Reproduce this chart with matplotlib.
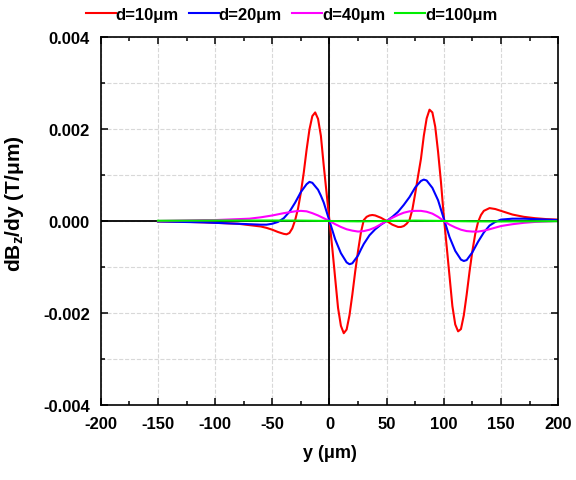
import matplotlib
matplotlib.use('Agg')
import matplotlib.pyplot as plt
from matplotlib.ticker import MultipleLocator, FormatStrFormatter

plt.rcParams['font.family'] = ['Liberation Sans', 'DejaVu Sans']
plt.rcParams['font.weight'] = 'bold'
plt.rcParams['axes.unicode_minus'] = False
plt.rcParams['mathtext.fontset'] = 'custom'
plt.rcParams['mathtext.bf'] = 'Liberation Sans:bold'
plt.rcParams['mathtext.rm'] = 'Liberation Sans:bold'
plt.rcParams['mathtext.default'] = 'bf'

# d = 10 um
y_d10 = [-150, -130, -110, -100, -90, -80, -70, -60, -55, -50, -45, -40, -37.5, -35, -32.5,
         -30, -27.5, -25, -22.5, -20, -17.5, -15, -12.5, -10, -7.5, -5, -2.5, 0,
         2.5, 5, 7.5, 10, 12.5, 15, 17.5, 20, 22.5, 25, 27.5, 30, 32.5, 35, 37.5, 40,
         45, 50, 55, 60, 62.5, 65, 67.5, 70, 72.5, 75, 77.5, 80, 82.5, 85, 87.5, 90,
         92.5, 95, 97.5, 100, 102.5, 105, 107.5, 110, 112.5, 115, 117.5, 120, 122.5,
         125, 127.5, 130, 132.5, 135, 140, 145, 150, 160, 170, 180, 190, 200]
g_d10 = [-0.00001, -0.000015, -0.00003, -0.00004, -0.00005, -0.00006, -0.00009, -0.00012,
         -0.00015, -0.00019, -0.00024, -0.00028, -0.00029, -0.00026, -0.00016,
         0.00002, 0.00027, 0.00062, 0.00105, 0.00155, 0.00199, 0.00228, 0.00236, 0.00222,
         0.00185, 0.0012, 0.0006, 0.0,
         -0.0006, -0.00125, -0.00189, -0.00228, -0.00244, -0.00236, -0.00205, -0.0016,
         -0.0011, -0.00065, -0.00025, 0.00002, 0.00009, 0.00012, 0.00013, 0.00012,
         0.00007, 0.0, -0.00008, -0.00013, -0.00013, -0.00011, -0.00006, 0.00002,
         0.00025, 0.0006, 0.00098, 0.00135, 0.00185, 0.00223, 0.00242, 0.00236,
         0.00205, 0.0015, 0.00085, 0.0001, -0.00055, -0.0012, -0.00185, -0.00225,
         -0.0024, -0.00235, -0.00205, -0.0016, -0.0011,
         -0.00065, -0.00028, -0.00002, 0.00013, 0.00022, 0.00028, 0.00026, 0.00022,
         0.00014, 0.00009, 0.00006, 0.00004, 0.00003]

# d = 20 um
y_d20 = [-150, -130, -110, -100, -90, -80, -70, -60, -55, -50, -45, -40, -35, -30, -25,
         -20, -17.5, -15, -10, -7.5, -5, -2.5, 0, 2.5, 5, 7.5, 10, 15, 17.5, 20, 25,
         27.5, 30, 35, 40, 45, 50, 55, 60, 65, 70, 75, 80, 82.5, 85, 90, 95, 100, 105,
         110, 115, 117.5, 120, 125, 130, 135, 140, 145, 150, 160, 170, 180, 190, 200]
g_d20 = [-0.00001, -0.00002, -0.00003, -0.00004, -0.00005, -0.00006, -0.00007, -0.00008,
         -0.00008, -0.00006, -0.00002, 0.00006, 0.0002, 0.0004, 0.00063,
         0.0008, 0.00085, 0.00083, 0.00068, 0.00055, 0.0004, 0.0002, 0.0, -0.0002,
         -0.0004, -0.00055, -0.0007, -0.0009, -0.00094, -0.00092, -0.00075,
         -0.00062, -0.0005, -0.00031, -0.00018, -0.00008, 0.0, 0.00009, 0.0002, 0.00035,
         0.00052, 0.00073, 0.00087, 0.0009, 0.00088, 0.00072, 0.00045, 0.00005, -0.00035,
         -0.00065, -0.00084, -0.00087, -0.00085, -0.00068, -0.00045, -0.00025, -0.0001,
         -0.00002, 0.00003, 0.00005, 0.00005, 0.00004, 0.00003, 0.00002]

# d = 40 um
y_d40 = [-150, -130, -110, -100, -90, -80, -70, -60, -50, -40, -30, -25, -20, -15, -10,
         -5, 0, 5, 10, 15, 20, 25, 30, 35, 40, 45, 50, 55, 60, 65, 70, 75, 80, 85, 90,
         95, 100, 105, 110, 115, 120, 125, 130, 135, 140, 150, 160, 170, 180, 190, 200]
g_d40 = [0.0, 0.00001, 0.00002, 0.00002, 0.00003, 0.00004, 0.00005, 0.00008, 0.00012,
         0.00017, 0.00021, 0.00022, 0.00021, 0.00017, 0.00012, 0.00006, 0.0, -0.00007,
         -0.00013, -0.00018, -0.00021, -0.00023, -0.00022, -0.00019, -0.00014, -0.00007,
         0.0, 0.00007, 0.00013, 0.00018, 0.00021, 0.00022, 0.00022, 0.0002, 0.00016,
         0.00009, 0.0, -0.00008, -0.00014, -0.00019, -0.00022, -0.00023, -0.00023,
         -0.00021, -0.00018, -0.00011, -0.00007, -0.00004, -0.00002, -0.00001, 0.0]

# d = 100 um
y_d100 = [-150, -100, -50, -25, 0, 25, 50, 75, 100, 125, 150, 200]
g_d100 = [0.000005, 0.00001, 0.00001, 0.000008, 0.0, -0.000008, 0.0, 0.000008, 0.0,
          -0.000008, -0.00001, -0.000005]

series = [
    (y_d10, g_d10, 'red', 'd=10μm'),
    (y_d20, g_d20, 'blue', 'd=20μm'),
    (y_d40, g_d40, 'magenta', 'd=40μm'),
    (y_d100, g_d100, '#00ee00', 'd=100μm'),
]

fig = plt.figure(figsize=(5.76, 4.81), dpi=100)
ax = fig.add_axes([0.175, 0.156, 0.794, 0.765])
ax.set_axisbelow(True)

ax.axhline(0, color='black', lw=1.3, zorder=1)
ax.axvline(0, color='black', lw=1.3, zorder=1)

for ys, gs, col, lab in series:
    ax.plot(ys, gs, color=col, lw=1.5, label=lab, zorder=2)

ax.set_xlim(-200, 200)
ax.set_ylim(-0.004, 0.004)
ax.xaxis.set_major_locator(MultipleLocator(50))
ax.xaxis.set_minor_locator(MultipleLocator(25))
ax.yaxis.set_major_locator(MultipleLocator(0.002))
ax.yaxis.set_minor_locator(MultipleLocator(0.001))
ax.yaxis.set_major_formatter(FormatStrFormatter('%.3f'))

ax.grid(True, which='major', axis='x', ls='--', color='#d8d8d8', lw=0.8)
ax.grid(True, which='both', axis='y', ls='--', color='#d8d8d8', lw=0.8)

ax.tick_params(which='both', direction='in', top=True, right=True, width=1.1)
ax.tick_params(which='major', length=5, labelsize=12, pad=8)
ax.tick_params(which='minor', length=3)
for s in ax.spines.values():
    s.set_linewidth(1.2)

ax.set_xlabel('y (μm)', fontsize=13, fontweight='bold', labelpad=9)
ax.set_ylabel('dB$_z$/dy (T/μm)', fontsize=15, fontweight='bold')
ax.yaxis.set_label_coords(-0.164, 0.55)

ax.legend(loc='center', bbox_to_anchor=(0.417, 1.0625), ncol=4, frameon=False,
          fontsize=12, handlelength=1.8, handletextpad=0.0, columnspacing=0.6,
          borderaxespad=0.0, borderpad=0.0)

fig.savefig('out.png', dpi=100)
